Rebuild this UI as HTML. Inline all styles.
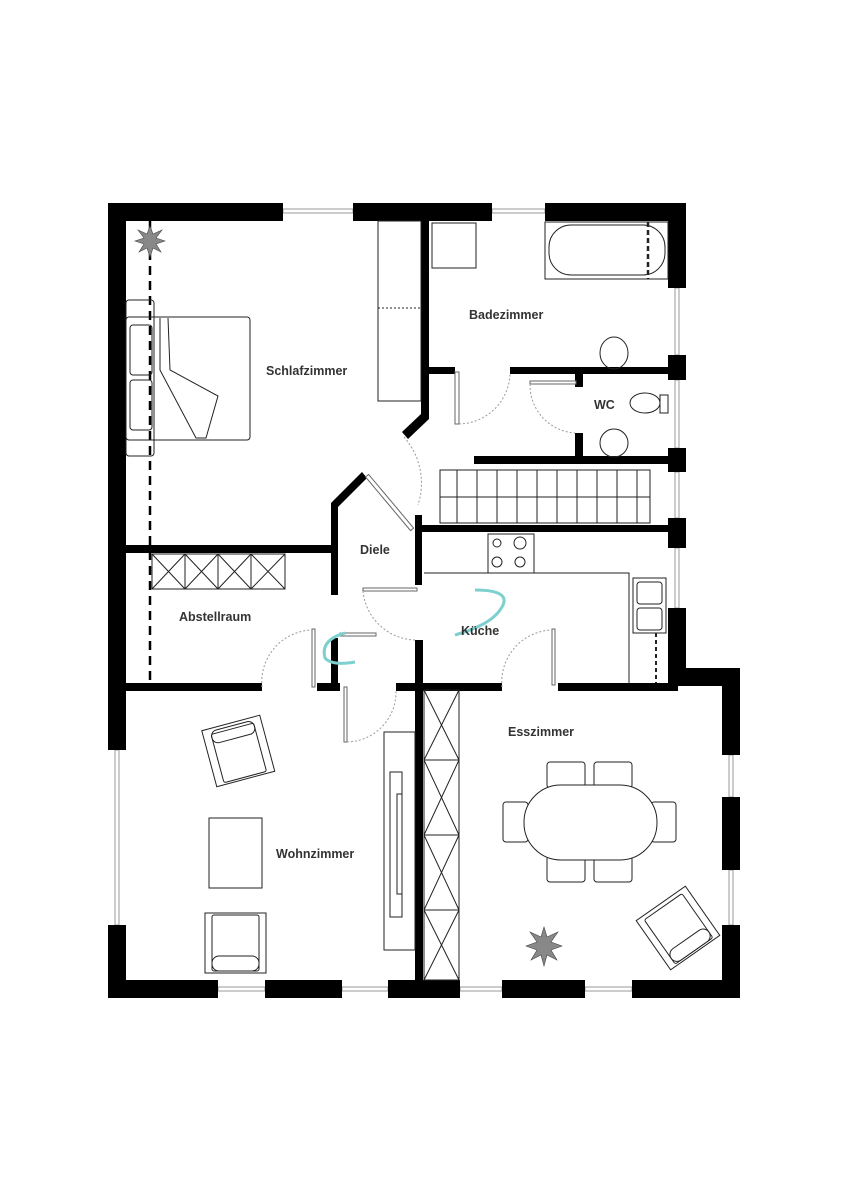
<!DOCTYPE html>
<html><head><meta charset="utf-8"><style>
html,body{margin:0;padding:0;background:#fff}
svg{display:block}
text{font-family:"Liberation Sans",sans-serif;font-weight:bold;font-size:12.5px;fill:#333}
</style></head><body>
<svg width="848" height="1200" viewBox="0 0 848 1200" xmlns="http://www.w3.org/2000/svg">
<defs>
<g id="win"><rect x="0" y="-3" width="1" height="6" fill="#888"/></g>
</defs>
<!-- windows (thin double lines) -->
<g stroke="#999" stroke-width="1" fill="none">
<rect x="283" y="209" width="70" height="4"/>
<rect x="492" y="209" width="53" height="4"/>
<rect x="675" y="288" width="4" height="67"/>
<rect x="675" y="380" width="4" height="68"/>
<rect x="675" y="472" width="4" height="46"/>
<rect x="675" y="548" width="4" height="60"/>
<rect x="115" y="750" width="4" height="175"/>
<rect x="218" y="987" width="47" height="4"/>
<rect x="342" y="987" width="46" height="4"/>
<rect x="460" y="987" width="42" height="4"/>
<rect x="585" y="987" width="47" height="4"/>
<rect x="729" y="755" width="4" height="42"/>
<rect x="729" y="870" width="4" height="55"/>
</g>
<!-- outer walls -->
<g fill="#000">
<rect x="108" y="203" width="175" height="18"/>
<rect x="353" y="203" width="139" height="18"/>
<rect x="545" y="203" width="141" height="18"/>
<rect x="108" y="203" width="18" height="547"/>
<rect x="108" y="925" width="18" height="73"/>
<rect x="108" y="980" width="110" height="18"/>
<rect x="265" y="980" width="77" height="18"/>
<rect x="388" y="980" width="72" height="18"/>
<rect x="502" y="980" width="83" height="18"/>
<rect x="632" y="980" width="108" height="18"/>
<rect x="722" y="668" width="18" height="87"/>
<rect x="722" y="797" width="18" height="73"/>
<rect x="722" y="925" width="18" height="73"/>
<rect x="668" y="668" width="72" height="18"/>
<rect x="668" y="203" width="18" height="85"/>
<rect x="668" y="355" width="18" height="25"/>
<rect x="668" y="448" width="18" height="24"/>
<rect x="668" y="518" width="18" height="30"/>
<rect x="668" y="608" width="18" height="78"/>
<!-- interior -->
<rect x="421" y="220" width="8" height="197"/>
<polygon points="421,414 429,414 429,419 408,439 402,432"/>
<rect x="429" y="367" width="26" height="7"/>
<rect x="510" y="367" width="160" height="7"/>
<rect x="575" y="372" width="8" height="15"/>
<rect x="575" y="433" width="8" height="25"/>
<rect x="474" y="456" width="196" height="8"/>
<rect x="415" y="525" width="255" height="7"/>
<rect x="415" y="515" width="7" height="70"/>
<polygon points="331,503 362,472 367,478 338,507 338,595 331,595"/>
<rect x="126" y="545" width="212" height="8"/>
<rect x="126" y="683" width="136" height="8"/>
<rect x="317" y="683" width="23" height="8"/>
<rect x="331" y="638" width="7" height="53"/>
<rect x="415" y="640" width="8" height="340"/>
<rect x="396" y="683" width="106" height="8"/>
<rect x="558" y="683" width="120" height="8"/>
</g>
<!-- door leaves -->
<g fill="#fff" stroke="#666" stroke-width="1">
<rect x="455" y="372" width="4" height="52"/>
<rect x="530" y="381" width="46" height="3"/>
<rect x="367" y="475" width="4" height="70" transform="rotate(-40 369 478)"/>
<rect x="363" y="588" width="54" height="3"/>
<rect x="312" y="629" width="3" height="58"/>
<rect x="340" y="633" width="36" height="3"/>
<rect x="344" y="687" width="3" height="55"/>
<rect x="552" y="629" width="3" height="56"/>
</g>
<!-- door arcs -->
<g fill="none" stroke="#999" stroke-width="1" stroke-dasharray="2,2">
<path d="M404,437 A70,70 0 0 1 418,505"/>
<path d="M459,424 A52,52 0 0 0 510,374"/>
<path d="M530,384 A48,48 0 0 0 575,433"/>
<path d="M363,591 A54,54 0 0 0 415,640"/>
<path d="M262,687 A52,52 0 0 1 312,630"/>
<path d="M347,742 A50,50 0 0 0 396,690"/>
<path d="M502,687 A52,52 0 0 1 552,630"/>
</g>
<!-- teal arcs -->
<g fill="none" stroke="#7ed0cf" stroke-width="3">
<path d="M475,590 Q515,590 500,610 Q490,625 455,635"/>
<path d="M345,633 Q320,640 325,658 Q332,666 355,662"/>
</g>
<!-- dashed wall line left -->
<line x1="150" y1="221" x2="150" y2="683" stroke="#000" stroke-width="2.5" stroke-dasharray="9,6"/>
<!-- plant top-left -->
<g stroke="#444" fill="#888" stroke-width="0.6">
<polygon points="150,226 153,234 162,230 156,238 165,241 156,244 161,252 153,248 150,257 147,248 139,252 144,244 135,241 144,238 138,230 147,234"/>
<polygon points="544,927 547,937 558,932 551,942 562,946 551,950 557,960 547,955 544,966 541,955 531,960 537,950 526,946 537,942 530,932 541,937"/>
</g>
<!-- furniture stroke -->
<g fill="none" stroke="#222" stroke-width="1">
<!-- closet -->
<rect x="378" y="221" width="43" height="180"/>
<line x1="378" y1="308" x2="421" y2="308" stroke-dasharray="2,2"/>
<!-- shower -->
<rect x="432" y="223" width="44" height="45"/>
<!-- bathtub -->
<rect x="545" y="222" width="123" height="57"/>
<rect x="549" y="225" width="116" height="50" rx="22"/>
<line x1="648" y1="222" x2="648" y2="279" stroke-width="2.5" stroke-dasharray="5,3"/>
<!-- bed -->
<rect x="126" y="300" width="28" height="156" rx="3"/>
<rect x="126" y="317" width="124" height="123" rx="3"/>
<rect x="130" y="325" width="22" height="50" rx="3"/>
<rect x="130" y="380" width="22" height="50" rx="3"/>
<path d="M160,318 L160,370 L196,438 L206,438 L218,396 L170,370 L168,318"/>
<!-- sinks/toilet -->
<ellipse cx="614" cy="353" rx="14" ry="16"/>
<ellipse cx="614" cy="443" rx="14" ry="14"/>
<ellipse cx="645" cy="403" rx="15" ry="10"/>
<rect x="660" y="395" width="8" height="18"/>
<!-- stairs -->
<rect x="440" y="470" width="210" height="53"/>
<line x1="440" y1="497" x2="650" y2="497"/>
<line x1="457" y1="470" x2="457" y2="523"/><line x1="477" y1="470" x2="477" y2="523"/>
<line x1="497" y1="470" x2="497" y2="523"/><line x1="517" y1="470" x2="517" y2="523"/>
<line x1="537" y1="470" x2="537" y2="523"/><line x1="557" y1="470" x2="557" y2="523"/>
<line x1="577" y1="470" x2="577" y2="523"/><line x1="597" y1="470" x2="597" y2="523"/>
<line x1="617" y1="470" x2="617" y2="523"/><line x1="637" y1="470" x2="637" y2="523"/>
<!-- kitchen -->
<polyline points="424,573 629,573 629,683"/>
<rect x="488" y="534" width="46" height="39"/>
<circle cx="497" cy="543" r="4"/><circle cx="520" cy="543" r="6"/>
<circle cx="497" cy="562" r="5"/><circle cx="520" cy="562" r="5"/>
<rect x="633" y="578" width="33" height="55"/>
<rect x="637" y="582" width="25" height="22" rx="3"/>
<rect x="637" y="608" width="25" height="22" rx="3"/>
<line x1="656" y1="633" x2="656" y2="683" stroke-width="2" stroke-dasharray="4,3"/>
<!-- abstellraum shelf -->
<rect x="152" y="554" width="133" height="35"/>
<path d="M185,554V589M218,554V589M251,554V589M152,554L185,589M185,554L152,589M185,554L218,589M218,554L185,589M218,554L251,589M251,554L218,589M251,554L285,589M285,554L251,589"/>
<!-- shelving -->
<rect x="424" y="690" width="35" height="290"/>
<path d="M424,760H459M424,835H459M424,910H459M424,690L459,760M459,690L424,760M424,760L459,835M459,760L424,835M424,835L459,910M459,835L424,910M424,910L459,980M459,910L424,980"/>
<!-- TV -->
<rect x="384" y="732" width="31" height="218"/>
<rect x="390" y="772" width="12" height="145"/>
<rect x="397" y="794" width="5" height="100"/>
<!-- armchairs -->
<g transform="rotate(-15 238 750)">
<rect x="208" y="722" width="60" height="58"/>
<rect x="216" y="728" width="44" height="50" rx="2"/>
<rect x="216" y="725" width="44" height="13" rx="6"/>
</g>
<rect x="209" y="818" width="53" height="70"/>
<rect x="205" y="913" width="61" height="60"/>
<rect x="212" y="915" width="47" height="56" rx="2"/>
<rect x="212" y="956" width="47" height="15" rx="7"/>
<g transform="rotate(-35 678 928)">
<rect x="648" y="898" width="60" height="60"/>
<rect x="655" y="902" width="46" height="54" rx="2"/>
<rect x="655" y="942" width="46" height="14" rx="7"/>
</g>
<!-- dining -->
<rect x="547" y="762" width="38" height="26" rx="3"/>
<rect x="594" y="762" width="38" height="26" rx="3"/>
<rect x="547" y="856" width="38" height="26" rx="3"/>
<rect x="594" y="856" width="38" height="26" rx="3"/>
<rect x="503" y="802" width="25" height="40" rx="3"/>
<rect x="651" y="802" width="25" height="40" rx="3"/>
<rect x="524" y="785" width="133" height="75" rx="37" fill="#fff"/>
</g>
<text x="266" y="375">Schlafzimmer</text>
<text x="469" y="319">Badezimmer</text>
<text x="594" y="409">WC</text>
<text x="360" y="554">Diele</text>
<text x="179" y="621">Abstellraum</text>
<text x="461" y="635">Küche</text>
<text x="508" y="736">Esszimmer</text>
<text x="276" y="858">Wohnzimmer</text>
</svg>
</body></html>
